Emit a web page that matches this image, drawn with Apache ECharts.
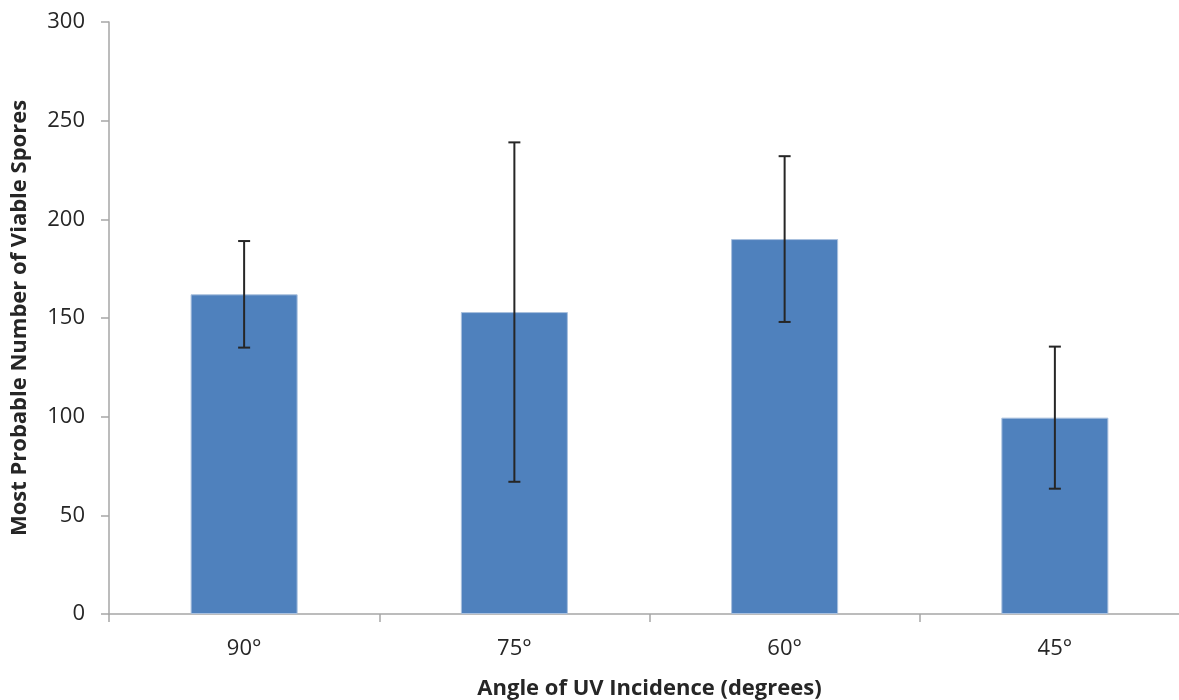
<!DOCTYPE html>
<html>
<head>
<meta charset="utf-8">
<script src="https://cdn.jsdelivr.net/npm/echarts@6/dist/echarts.min.js"></script>
<style>
html, body { margin: 0; padding: 0; background: #fff; }
#chart { width: 1179px; height: 700px; }
</style>
</head>
<body>
<div id="chart"></div>
<script>
var dom = document.getElementById("chart");
var myChart = echarts.init(dom);

// angles on x axis
var angles = ['90°', '75°', '60°', '45°'];
// most probable number of viable spores
var mpn = [162, 153, 190, 99.5];
// +/- error
var errs = [27, 86, 42, 36];

var errData = [];
for (var i = 0; i < angles.length; i++) {
    errData.push([i, mpn[i] - errs[i], mpn[i] + errs[i]]);
}

var textColor = '#262626';
var axisColor = '#a6a6a6';
var fontName = "'Open Sans', 'Liberation Sans', sans-serif";

var option = {
    animation: false,
    grid: {
        left: 109,
        top: 22,
        bottom: 86,
        width: 1081,
        containLabel: false,
        outerBoundsMode: 'none'
    },
    xAxis: {
        type: 'category',
        data: angles,
        name: 'Angle of UV Incidence (degrees)',
        nameLocation: 'middle',
        nameGap: 64,
        nameTextStyle: { fontFamily: fontName, fontSize: 22, fontWeight: 'bold', color: textColor },
        axisLine: { lineStyle: { color: axisColor, width: 1.5 } },
        axisTick: { show: true, length: 8, lineStyle: { color: axisColor, width: 1.5 } },
        axisLabel: { margin: 24, fontFamily: fontName, fontSize: 22, color: textColor }
    },
    yAxis: {
        type: 'value',
        min: 0,
        max: 300,
        interval: 50,
        name: 'Most Probable Number of Viable Spores',
        nameLocation: 'middle',
        nameGap: 78,
        nameTextStyle: { fontFamily: fontName, fontSize: 22, fontWeight: 'bold', color: textColor },
        splitLine: { show: false },
        axisLine: { show: true, lineStyle: { color: axisColor, width: 1.5 } },
        axisTick: { show: true, length: 8, lineStyle: { color: axisColor, width: 1.5 } },
        axisLabel: { margin: 24, fontFamily: fontName, fontSize: 22, color: textColor }
    },
    series: [{
        type: 'bar',
        data: mpn,
        barWidth: '39.6%',
        itemStyle: {
            color: '#4f81bd',
            borderColor: '#a9c0de',
            borderWidth: 1
        }
    }, {
        type: 'custom',
        data: errData,
        z: 10,
        renderItem: function (params, api) {
            var x = api.value(0);
            var lo = api.coord([x, api.value(1)]);
            var hi = api.coord([x, api.value(2)]);
            var cap = 6;
            var style = { stroke: '#262626', lineWidth: 2 };
            return {
                type: 'group',
                children: [{
                    type: 'line',
                    shape: { x1: hi[0], y1: hi[1], x2: lo[0], y2: lo[1] },
                    style: style
                }, {
                    type: 'line',
                    shape: { x1: hi[0] - cap, y1: hi[1], x2: hi[0] + cap, y2: hi[1] },
                    style: style
                }, {
                    type: 'line',
                    shape: { x1: lo[0] - cap, y1: lo[1], x2: lo[0] + cap, y2: lo[1] },
                    style: style
                }]
            };
        }
    }]
};

myChart.setOption(option, true);
</script>
</body>
</html>
